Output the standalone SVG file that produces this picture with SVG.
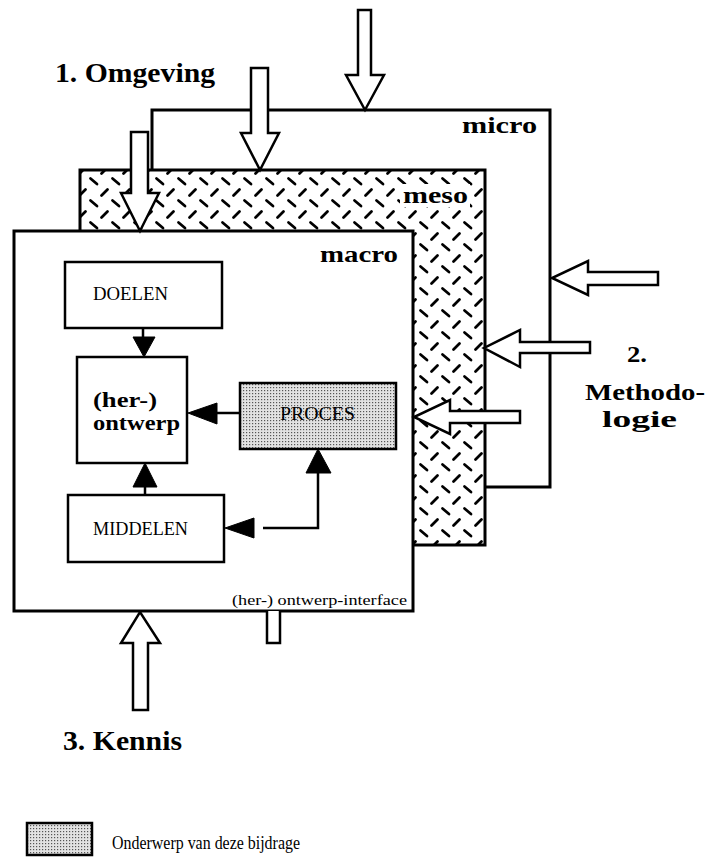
<svg xmlns="http://www.w3.org/2000/svg" width="707" height="857" viewBox="0 0 707 857">
<style>
.frame{stroke:#000;stroke-width:3;}
.blk{fill:#fff;stroke:#000;stroke-width:2.5;stroke-linejoin:miter;}
.box{fill:#fff;stroke:#000;stroke-width:2.5;}
.lbl{font-family:"Liberation Serif",serif;font-weight:bold;fill:#000;}
.cap{font-family:"Liberation Serif",serif;fill:#000;}
.con{stroke:#000;stroke-width:2.5;fill:none;}
.head{fill:#000;stroke:#000;stroke-width:1;}
</style>
<defs>
<pattern id="hatch" patternUnits="userSpaceOnUse" width="22" height="22">
<rect width="22" height="22" fill="#fff"/>
<line x1="2.5" y1="2.5" x2="9" y2="8" stroke="#000" stroke-width="2.8" stroke-linecap="round"/>
<line x1="13.5" y1="19.5" x2="19.5" y2="13.5" stroke="#000" stroke-width="2.8" stroke-linecap="round"/>
</pattern>
<pattern id="dots" patternUnits="userSpaceOnUse" width="3" height="3">
<rect width="3" height="3" fill="#e2e2e2"/>
<rect width="1.2" height="1.2" fill="#555"/>
</pattern>
</defs>
<rect width="707" height="857" fill="#fff"/>

<g id="micro">
<rect x="152" y="110" width="398" height="377" fill="#fff" class="frame"/>
<text class="lbl" x="462" y="133" font-size="24" textLength="75" lengthAdjust="spacingAndGlyphs">micro</text>
</g>
<g id="meso">
<rect x="80" y="170" width="405" height="375" fill="url(#hatch)" class="frame"/>
<rect x="400" y="184" width="70" height="23" fill="#fff"/>
<text class="lbl" x="403" y="203" font-size="24" textLength="65" lengthAdjust="spacingAndGlyphs">meso</text>
</g>
<g id="macro">
<rect x="14" y="231" width="399" height="380" fill="#fff" class="frame"/>
<text class="lbl" x="320" y="262" font-size="24" textLength="78" lengthAdjust="spacingAndGlyphs">macro</text>
<text class="cap" x="232" y="605" font-size="14" textLength="175" lengthAdjust="spacingAndGlyphs">(her-) ontwerp-interface</text>
</g>

<g id="doelen">
<rect class="box" x="65" y="262" width="157" height="66"/>
<text class="cap" x="93" y="300" font-size="18" textLength="75" lengthAdjust="spacingAndGlyphs">DOELEN</text>
</g>
<g id="ontwerp">
<rect class="box" x="77" y="357" width="110" height="106"/>
<text class="lbl" x="93" y="407" font-size="20" textLength="64" lengthAdjust="spacingAndGlyphs">(her-)</text>
<text class="lbl" x="93" y="430" font-size="20" textLength="87" lengthAdjust="spacingAndGlyphs">ontwerp</text>
</g>
<g id="proces">
<rect x="240" y="383" width="156" height="66" fill="url(#dots)" stroke="#000" stroke-width="2.5"/>
<text class="cap" x="280" y="420" font-size="18" textLength="75" lengthAdjust="spacingAndGlyphs">PROCES</text>
</g>
<g id="middelen">
<rect class="box" x="68" y="495" width="156" height="67"/>
<text class="cap" x="93" y="535" font-size="18" textLength="95" lengthAdjust="spacingAndGlyphs">MIDDELEN</text>
</g>

<g id="connectors">
<line class="con" x1="143" y1="328" x2="143" y2="340"/>
<polygon class="head" points="133,337 155,337 144,357"/>
<line class="con" x1="240" y1="413" x2="215" y2="413"/>
<polygon class="head" points="217,403 217,424 188,413"/>
<line class="con" x1="145" y1="495" x2="145" y2="485"/>
<polygon class="head" points="133,487 157,487 145,463"/>
<polyline class="con" points="263,528 318,528 318,470"/>
<polygon class="head" points="306,473 331,473 318,449"/>
<polygon class="head" points="254,518 254,538 225,528"/>
</g>

<g id="arrows">
<polygon class="blk" points="358,10 371,10 371,75 384,75 365,110 346,75 358,75"/>
<polygon class="blk" points="251,68 268,68 268,133 279,133 260,170 241,133 251,133"/>
<polygon class="blk" points="131,132 148,132 148,193 159,193 140,231 121,193 131,193"/>
<polygon class="blk" points="658,272 588,272 588,261 552,278 588,295 588,285 658,285"/>
<polygon class="blk" points="590,342 520,342 520,330 484,348 520,367 520,353 590,353"/>
<polygon class="blk" points="520,411 450,411 450,400 414,417 450,434 450,423 520,423"/>
<polygon class="blk" points="133,710 148,710 148,643 160,643 140,612 121,643 133,643"/>
<path class="blk" d="M267,611 V643 H280 V611"/>
</g>

<g id="labels">
<text class="lbl" x="55" y="82" font-size="27" textLength="160" lengthAdjust="spacingAndGlyphs">1.  Omgeving</text>
<text class="lbl" x="627" y="362" font-size="24" textLength="20" lengthAdjust="spacingAndGlyphs">2.</text>
<text class="lbl" x="585" y="400" font-size="24" textLength="120" lengthAdjust="spacingAndGlyphs">Methodo-</text>
<text class="lbl" x="602" y="427" font-size="24" textLength="75" lengthAdjust="spacingAndGlyphs">logie</text>
<text class="lbl" x="63" y="750" font-size="27" textLength="119" lengthAdjust="spacingAndGlyphs">3.  Kennis</text>
</g>

<g id="legend">
<rect x="27" y="823" width="65" height="32" fill="url(#dots)" stroke="#000" stroke-width="2.5"/>
<text class="cap" x="112" y="849" font-size="18" textLength="188" lengthAdjust="spacingAndGlyphs">Onderwerp van deze bijdrage</text>
</g>
</svg>
